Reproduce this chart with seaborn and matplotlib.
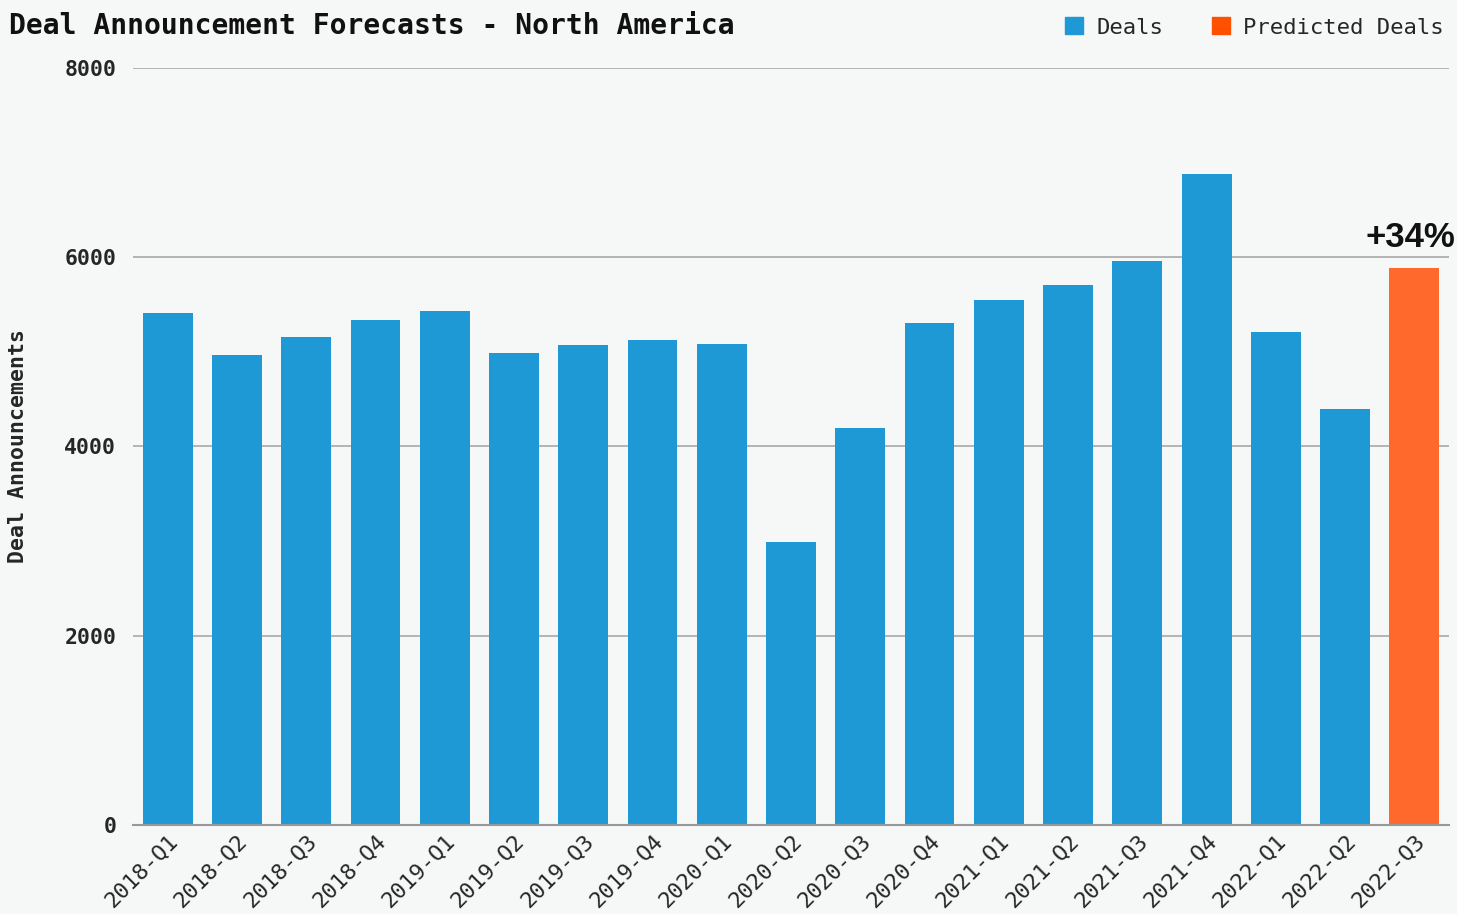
import matplotlib
matplotlib.use("Agg")
import matplotlib.pyplot as plt
import seaborn as sns
import pandas as pd
from matplotlib.patches import Patch

quarters = ["2018-Q1", "2018-Q2", "2018-Q3", "2018-Q4",
            "2019-Q1", "2019-Q2", "2019-Q3", "2019-Q4",
            "2020-Q1", "2020-Q2", "2020-Q3", "2020-Q4",
            "2021-Q1", "2021-Q2", "2021-Q3", "2021-Q4",
            "2022-Q1", "2022-Q2", "2022-Q3"]
deals = [5410, 4967, 5157, 5337, 5432, 4988, 5073, 5125, 5083, 2991,
         4195, 5305, 5548, 5707, 5960, 6880, 5210, 4396, 5886]
kind = ["Deals"] * 18 + ["Predicted Deals"]
change_label = "+34%"

bg = "#f6f8f7"
blue = "#1f99d6"
orange = "#ff6a2c"
legend_orange = "#ff5000"

sns.set_theme(style="white")
plt.rcParams["font.family"] = ["DejaVu Sans Mono"]

df = pd.DataFrame({"quarter": quarters, "deals": deals, "kind": kind})

fig = plt.figure(figsize=(14.57, 9.14), dpi=100, facecolor=bg)
ax = fig.add_axes([0.0913, 0.0974, 0.9032, 0.8282], facecolor=bg)

sns.barplot(data=df, x="quarter", y="deals", hue="kind",
            palette={"Deals": blue, "Predicted Deals": orange},
            dodge=False, width=0.72, saturation=1, legend=False,
            linewidth=0, ax=ax)

ax.set_ylim(0, 8000)
ax.set_xlim(-0.5, len(quarters) - 0.5)
ax.set_yticks([0, 2000, 4000, 6000, 8000])
ax.yaxis.grid(True, color="#a8a8a8", linewidth=1.2)
ax.set_axisbelow(True)
for s in ["top", "right", "left"]:
    ax.spines[s].set_visible(False)
ax.spines["bottom"].set_color("#999999")
ax.spines["bottom"].set_linewidth(1.5)
ax.tick_params(axis="y", length=0, pad=12, labelsize=15.5)
ax.tick_params(axis="x", length=0, pad=4, labelsize=16)
for t in ax.get_yticklabels():
    t.set_fontweight("bold")
plt.setp(ax.get_xticklabels(), rotation=45, ha="right", rotation_mode="anchor")
ax.set_xlabel("")
ax.set_ylabel("Deal Announcements", fontsize=15.5, fontweight="bold")
ax.yaxis.set_label_coords(-0.0798, 0.5)

# percentage change label above the forecast bar
ax.text(len(quarters) - 1 + 0.59, deals[-1] + 150, change_label,
        ha="right", va="bottom", fontsize=25, fontweight="bold",
        family="Liberation Sans", color="#111111", clip_on=False)

fig.text(0.006, 0.9716, "Deal Announcement Forecasts - North America",
         ha="left", va="center", fontsize=20.2, fontweight="bold", color="#111111")

handles = [Patch(color=blue, label="Deals"),
           Patch(color=legend_orange, label="Predicted Deals")]
fig.legend(handles=handles, loc="center right", bbox_to_anchor=(1.0, 0.97),
           ncol=2, frameon=False, fontsize=16, handlelength=0.8, handleheight=0.8,
           columnspacing=2.2, handletextpad=0.6, borderaxespad=0.2)

fig.savefig("out.png", dpi=100, facecolor=bg)
